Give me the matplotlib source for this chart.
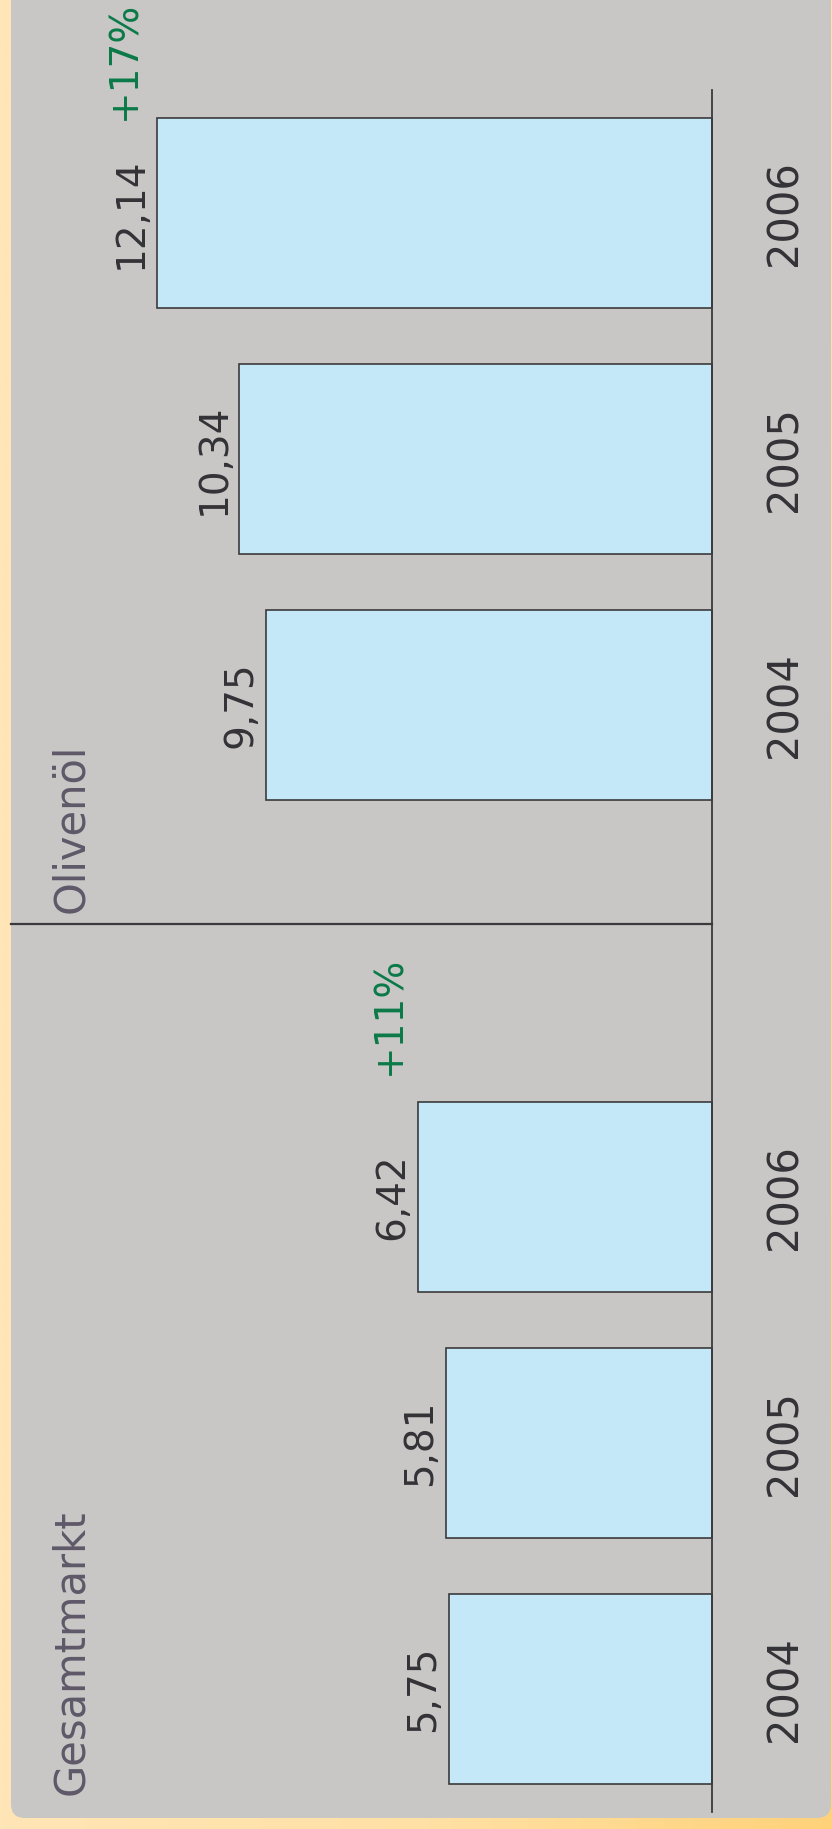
import matplotlib.pyplot as plt
import numpy as np
from matplotlib.patches import FancyBboxPatch
from matplotlib.colors import LinearSegmentedColormap

# data
years = ["2004", "2005", "2006"]
gesamt = [5.75, 5.81, 6.42]
oliven = [9.75, 10.34, 12.14]
groups = ["Gesamtmarkt", "Olivenöl"]
growth = ["+11%", "+17%"]

W, H = 832, 1829
fig = plt.figure(figsize=(W / 100, H / 100), dpi=100)

# backdrop: peach gradient with a grey rounded panel on top
bg = fig.add_axes([0, 0, 1, 1])
bg.set_xlim(0, W)
bg.set_ylim(H, 0)
bg.axis('off')
gx, gy = np.meshgrid(np.linspace(0, 1, 300), np.linspace(0, 1, 300))
cmap = LinearSegmentedColormap.from_list('peach', ['#ffe6b6', '#ffe1a6', '#ffd27a'])
bg.imshow(gx * (0.4 + 0.6 * gy), cmap=cmap, extent=[0, W, H, 0], aspect='auto')
bg.add_patch(FancyBboxPatch((11, -30), W - 12, 1818 + 30,
                            boxstyle='round,pad=0,rounding_size=14',
                            fc='#c8c7c5', ec='none'))

# titles
title_kw = dict(rotation=90, rotation_mode='anchor', ha='left', va='baseline',
                fontsize=30, color='#5f5868')
bg.text(83, 1795, groups[0], **title_kw)
bg.text(83, 913, groups[1], **title_kw)

# bars: horizontal bars growing leftwards from a common baseline
ax = fig.add_axes([0, 0, 1, 1])
ax.patch.set_alpha(0)
ax.axis('off')
px = 45.75      # pixels per unit
base = 712      # baseline x in pixels
y0, unit = 139.9, 246.0
ax.set_xlim(base / px, (base - W) / px)
ax.set_ylim(-y0 / unit, (H - y0) / unit)

pos_g = np.arange(3)
pos_o = np.arange(3) + 4
txt_kw = dict(rotation=90, rotation_mode='anchor', ha='center', va='baseline',
              fontsize=28, color='#333337')
yr_kw = dict(txt_kw, fontsize=30)

for pos, vals in [(pos_g, gesamt), (pos_o, oliven)]:
    ax.barh(pos, vals, height=0.772, color='#c5e8f8', edgecolor='#3a3a3c', linewidth=1.2)
    for p, v, yr in zip(pos, vals, years):
        ax.text(v + 0.32, p, f"{v:.2f}".replace('.', ','), **txt_kw)
        ax.text(-1.85, p, yr, **yr_kw)

g_kw = dict(txt_kw, color='#0a7a48')
ax.text(gesamt[-1] + 0.40, pos_g[-1] + 0.74, growth[0], **g_kw)
ax.text(oliven[-1] + 0.47, pos_o[-1] + 0.62, growth[1], **g_kw)

# baseline and separator
ax.plot([0, 0], [-0.5, 6.5], color='#3a3a3c', lw=1.3)
ax.axhline(3.11, xmin=11 / W, xmax=base / W, color='#3a3a3c', lw=1.6)

fig.savefig('out.png', dpi=100)
